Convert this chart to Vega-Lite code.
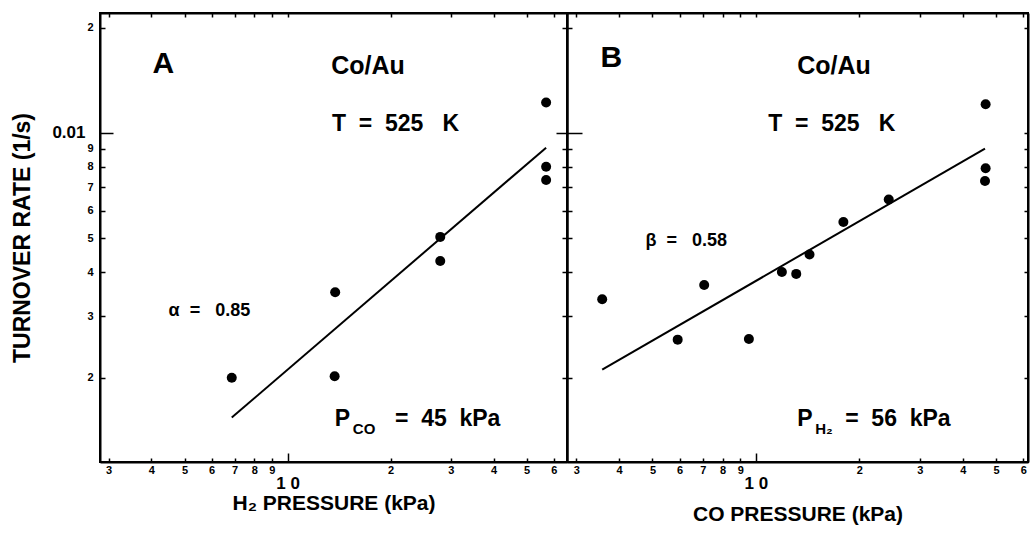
{
  "$schema": "https://vega.github.io/schema/vega-lite/v6.json",
  "background": "white",
  "padding": {"left": 10, "top": 11, "right": 0, "bottom": 0},
  "bounds": "flush",
  "spacing": 0,
  "config": {
    "font": "Liberation Sans",
    "view": {"stroke": "black", "strokeWidth": 2},
    "axis": {"domainColor": "black", "domainWidth": 2, "tickColor": "black", "tickWidth": 1.5, "labelColor": "black", "titleColor": "black", "labelFont": "Liberation Sans", "titleFont": "Liberation Sans", "labelFontWeight": "bold", "titleFontWeight": "bold", "grid": false, "labelFlush": false, "labelOverlap": false}
  },
  "datasets": {
    "ptsA": [
      {"p": 6.87, "rate": 0.0020},
      {"p": 13.78, "rate": 0.00351},
      {"p": 13.73, "rate": 0.00202},
      {"p": 27.95, "rate": 0.00505},
      {"p": 27.95, "rate": 0.00431},
      {"p": 57.0, "rate": 0.01221},
      {"p": 57.0, "rate": 0.00801},
      {"p": 57.0, "rate": 0.00734}
    ],
    "lineA": [
      {"p": 6.87, "rate": 0.00154},
      {"p": 57.0, "rate": 0.00908}
    ],
    "ptsB": [
      {"p": 3.57, "rate": 0.00335},
      {"p": 5.92, "rate": 0.00257},
      {"p": 7.07, "rate": 0.00368},
      {"p": 9.54, "rate": 0.00258},
      {"p": 11.9, "rate": 0.00401},
      {"p": 13.1, "rate": 0.00396},
      {"p": 14.32, "rate": 0.0045},
      {"p": 17.97, "rate": 0.00557},
      {"p": 24.35, "rate": 0.00646},
      {"p": 46.6, "rate": 0.01208},
      {"p": 46.6, "rate": 0.00793},
      {"p": 46.4, "rate": 0.00729}
    ],
    "lineB": [
      {"p": 3.57, "rate": 0.00211},
      {"p": 46.4, "rate": 0.00902}
    ],
    "annA": [
      {"p": 4.03, "rate": 0.01487, "label": "A", "kind": "letter"},
      {"p": 13.41, "rate": 0.01472, "label": "Co/Au", "kind": "head"},
      {"p": 13.48, "rate": 0.01013, "label": "T\u00a0\u00a0=\u00a0\u00a0525\u00a0\u00a0\u00a0K", "kind": "main"},
      {"p": 4.49, "rate": 0.0030, "label": "α\u00a0\u00a0=\u00a0\u00a0\u00a00.85", "kind": "greek"},
      {"p": 13.75, "rate": 0.001455, "label": "P", "kind": "main"},
      {"p": 15.52, "rate": 0.00138, "label": "CO", "kind": "sub"},
      {"p": 20.6, "rate": 0.001455, "label": "=\u00a0\u00a045\u00a0\u00a0kPa", "kind": "main"}
    ],
    "annB": [
      {"p": 3.53, "rate": 0.01544, "label": "B", "kind": "letter"},
      {"p": 13.18, "rate": 0.01472, "label": "Co/Au", "kind": "head"},
      {"p": 10.86, "rate": 0.01013, "label": "T\u00a0\u00a0=\u00a0\u00a0525\u00a0\u00a0\u00a0K", "kind": "main"},
      {"p": 4.77, "rate": 0.00475, "label": "β\u00a0\u00a0=\u00a0\u00a0\u00a00.58", "kind": "greek"},
      {"p": 13.18, "rate": 0.001455, "label": "P", "kind": "main"},
      {"p": 14.87, "rate": 0.00138, "label": "H₂", "kind": "sub"},
      {"p": 18.18, "rate": 0.001455, "label": "=\u00a0\u00a056\u00a0\u00a0kPa", "kind": "main"}
    ]
  },
  "hconcat": [
    {
      "width": 467,
      "height": 449,
      "layer": [
        {
          "data": {"name": "lineA"},
          "mark": {"type": "line", "color": "black", "strokeWidth": 2},
          "encoding": {
            "x": {"field": "p", "type": "quantitative", "scale": {"type": "log", "domain": [2.83, 65.6], "nice": false},
              "axis": {"orient": "bottom", "values": [3,4,5,6,7,8,9,10,20,30,40,50,60], "title": "H₂ PRESSURE (kPa)", "titleFontSize": 21, "titlePadding": 1,
                "labelExpr": "datum.value == 10 ? '1\u00a00' : format(datum.value < 10 ? datum.value : datum.value / 10, '.0f')",
                "labelFontSize": {"condition": {"test": "datum.value == 10", "value": 17}, "value": 11},
                "tickSize": {"condition": {"test": "datum.value == 10", "value": -9}, "value": -4},
                "labelPadding": {"condition": {"test": "datum.value == 10", "value": 22}, "value": 6},
                "labelBaseline": "top"}},
            "y": {"field": "rate", "type": "quantitative", "scale": {"type": "log", "domain": [0.00115, 0.022], "nice": false},
              "axis": {"orient": "left", "values": [0.002,0.003,0.004,0.005,0.006,0.007,0.008,0.009,0.01,0.02], "title": "TURNOVER RATE (1/s)", "titleFontSize": 23, "titlePadding": 17,
                "labelExpr": "datum.value == 0.01 ? '0.01' : datum.value > 0.01 ? format(datum.value * 100, '.0f') : format(datum.value * 1000, '.0f')",
                "labelFontSize": {"condition": {"test": "datum.value == 0.01", "value": 17}, "value": 11},
                "tickSize": {"condition": {"test": "datum.value == 0.01", "value": -13}, "value": -5},
                "labelPadding": {"condition": {"test": "datum.value == 0.01", "value": 28}, "value": 12},
                "labelBaseline": "middle"}}
          }
        },
        {
          "data": {"name": "ptsA"},
          "mark": {"type": "circle", "color": "black", "size": 100, "opacity": 1},
          "encoding": {
            "x": {"field": "p", "type": "quantitative", "scale": {"type": "log", "domain": [2.83, 65.6], "nice": false},
              "axis": {"orient": "top", "values": [3,4,5,6,7,8,9,10,20,30,40,50,60], "labels": false, "title": null, "tickSize": -4}},
            "y": {"field": "rate", "type": "quantitative", "scale": {"type": "log", "domain": [0.00115, 0.022], "nice": false},
              "axis": {"orient": "right", "values": [0.002,0.003,0.004,0.005,0.006,0.007,0.008,0.009,0.01,0.02], "labels": false, "title": null,
                "tickSize": {"condition": {"test": "datum.value == 0.01", "value": -11}, "value": -5}}}
          }
        },
        {
          "data": {"name": "annA"},
          "transform": [{"filter": "datum.kind == 'letter'"}],
          "mark": {"type": "text", "align": "left", "baseline": "alphabetic", "fontSize": 30, "fontWeight": "bold", "color": "black"},
          "encoding": {
            "x": {"field": "p", "type": "quantitative", "scale": {"type": "log", "domain": [2.83, 65.6], "nice": false}, "axis": null},
            "y": {"field": "rate", "type": "quantitative", "scale": {"type": "log", "domain": [0.00115, 0.022], "nice": false}, "axis": null},
            "text": {"field": "label"}
          }
        },
        {
          "data": {"name": "annA"},
          "transform": [{"filter": "datum.kind == 'head'"}],
          "mark": {"type": "text", "align": "left", "baseline": "alphabetic", "fontSize": 25, "fontWeight": "bold", "color": "black"},
          "encoding": {
            "x": {"field": "p", "type": "quantitative", "scale": {"type": "log", "domain": [2.83, 65.6], "nice": false}, "axis": null},
            "y": {"field": "rate", "type": "quantitative", "scale": {"type": "log", "domain": [0.00115, 0.022], "nice": false}, "axis": null},
            "text": {"field": "label"}
          }
        },
        {
          "data": {"name": "annA"},
          "transform": [{"filter": "datum.kind == 'main'"}],
          "mark": {"type": "text", "align": "left", "baseline": "alphabetic", "fontSize": 23, "fontWeight": "bold", "color": "black"},
          "encoding": {
            "x": {"field": "p", "type": "quantitative", "scale": {"type": "log", "domain": [2.83, 65.6], "nice": false}, "axis": null},
            "y": {"field": "rate", "type": "quantitative", "scale": {"type": "log", "domain": [0.00115, 0.022], "nice": false}, "axis": null},
            "text": {"field": "label"}
          }
        },
        {
          "data": {"name": "annA"},
          "transform": [{"filter": "datum.kind == 'sub'"}],
          "mark": {"type": "text", "align": "left", "baseline": "alphabetic", "fontSize": 15, "fontWeight": "bold", "color": "black"},
          "encoding": {
            "x": {"field": "p", "type": "quantitative", "scale": {"type": "log", "domain": [2.83, 65.6], "nice": false}, "axis": null},
            "y": {"field": "rate", "type": "quantitative", "scale": {"type": "log", "domain": [0.00115, 0.022], "nice": false}, "axis": null},
            "text": {"field": "label"}
          }
        },
        {
          "data": {"name": "annA"},
          "transform": [{"filter": "datum.kind == 'greek'"}],
          "mark": {"type": "text", "align": "left", "baseline": "alphabetic", "fontSize": 18, "fontWeight": "bold", "color": "black"},
          "encoding": {
            "x": {"field": "p", "type": "quantitative", "scale": {"type": "log", "domain": [2.83, 65.6], "nice": false}, "axis": null},
            "y": {"field": "rate", "type": "quantitative", "scale": {"type": "log", "domain": [0.00115, 0.022], "nice": false}, "axis": null},
            "text": {"field": "label"}
          }
        }
      ],
      "resolve": {"axis": {"x": "independent", "y": "independent"}}
    },
    {
      "width": 461,
      "height": 449,
      "layer": [
        {
          "data": {"name": "lineB"},
          "mark": {"type": "line", "color": "black", "strokeWidth": 2},
          "encoding": {
            "x": {"field": "p", "type": "quantitative", "scale": {"type": "log", "domain": [2.82, 61.9], "nice": false},
              "axis": {"orient": "bottom", "values": [3,4,5,6,7,8,9,10,20,30,40,50,60], "title": "CO PRESSURE (kPa)", "titleFontSize": 21, "titlePadding": 12,
                "labelExpr": "datum.value == 10 ? '1\u00a00' : format(datum.value < 10 ? datum.value : datum.value / 10, '.0f')",
                "labelFontSize": {"condition": {"test": "datum.value == 10", "value": 17}, "value": 11},
                "tickSize": {"condition": {"test": "datum.value == 10", "value": -9}, "value": -4},
                "labelPadding": {"condition": {"test": "datum.value == 10", "value": 22}, "value": 6},
                "labelBaseline": "top"}},
            "y": {"field": "rate", "type": "quantitative", "scale": {"type": "log", "domain": [0.00115, 0.022], "nice": false},
              "axis": {"orient": "left", "values": [0.002,0.003,0.004,0.005,0.006,0.007,0.008,0.009,0.01,0.02], "labels": false, "title": null,
                "tickSize": {"condition": {"test": "datum.value == 0.01", "value": -15}, "value": -5}}}
          }
        },
        {
          "data": {"name": "ptsB"},
          "mark": {"type": "circle", "color": "black", "size": 100, "opacity": 1},
          "encoding": {
            "x": {"field": "p", "type": "quantitative", "scale": {"type": "log", "domain": [2.82, 61.9], "nice": false},
              "axis": {"orient": "top", "values": [3,4,5,6,7,8,9,10,20,30,40,50,60], "labels": false, "title": null, "tickSize": -4}},
            "y": {"field": "rate", "type": "quantitative", "scale": {"type": "log", "domain": [0.00115, 0.022], "nice": false},
              "axis": {"orient": "right", "values": [0.002,0.003,0.004,0.005,0.006,0.007,0.008,0.009,0.01,0.02], "labels": false, "title": null, "tickSize": -4}}
          }
        },
        {
          "data": {"name": "annB"},
          "transform": [{"filter": "datum.kind == 'letter'"}],
          "mark": {"type": "text", "align": "left", "baseline": "alphabetic", "fontSize": 30, "fontWeight": "bold", "color": "black"},
          "encoding": {
            "x": {"field": "p", "type": "quantitative", "scale": {"type": "log", "domain": [2.82, 61.9], "nice": false}, "axis": null},
            "y": {"field": "rate", "type": "quantitative", "scale": {"type": "log", "domain": [0.00115, 0.022], "nice": false}, "axis": null},
            "text": {"field": "label"}
          }
        },
        {
          "data": {"name": "annB"},
          "transform": [{"filter": "datum.kind == 'head'"}],
          "mark": {"type": "text", "align": "left", "baseline": "alphabetic", "fontSize": 25, "fontWeight": "bold", "color": "black"},
          "encoding": {
            "x": {"field": "p", "type": "quantitative", "scale": {"type": "log", "domain": [2.82, 61.9], "nice": false}, "axis": null},
            "y": {"field": "rate", "type": "quantitative", "scale": {"type": "log", "domain": [0.00115, 0.022], "nice": false}, "axis": null},
            "text": {"field": "label"}
          }
        },
        {
          "data": {"name": "annB"},
          "transform": [{"filter": "datum.kind == 'main'"}],
          "mark": {"type": "text", "align": "left", "baseline": "alphabetic", "fontSize": 23, "fontWeight": "bold", "color": "black"},
          "encoding": {
            "x": {"field": "p", "type": "quantitative", "scale": {"type": "log", "domain": [2.82, 61.9], "nice": false}, "axis": null},
            "y": {"field": "rate", "type": "quantitative", "scale": {"type": "log", "domain": [0.00115, 0.022], "nice": false}, "axis": null},
            "text": {"field": "label"}
          }
        },
        {
          "data": {"name": "annB"},
          "transform": [{"filter": "datum.kind == 'sub'"}],
          "mark": {"type": "text", "align": "left", "baseline": "alphabetic", "fontSize": 15, "fontWeight": "bold", "color": "black"},
          "encoding": {
            "x": {"field": "p", "type": "quantitative", "scale": {"type": "log", "domain": [2.82, 61.9], "nice": false}, "axis": null},
            "y": {"field": "rate", "type": "quantitative", "scale": {"type": "log", "domain": [0.00115, 0.022], "nice": false}, "axis": null},
            "text": {"field": "label"}
          }
        },
        {
          "data": {"name": "annB"},
          "transform": [{"filter": "datum.kind == 'greek'"}],
          "mark": {"type": "text", "align": "left", "baseline": "alphabetic", "fontSize": 18, "fontWeight": "bold", "color": "black"},
          "encoding": {
            "x": {"field": "p", "type": "quantitative", "scale": {"type": "log", "domain": [2.82, 61.9], "nice": false}, "axis": null},
            "y": {"field": "rate", "type": "quantitative", "scale": {"type": "log", "domain": [0.00115, 0.022], "nice": false}, "axis": null},
            "text": {"field": "label"}
          }
        }
      ],
      "resolve": {"axis": {"x": "independent", "y": "independent"}}
    }
  ]
}
